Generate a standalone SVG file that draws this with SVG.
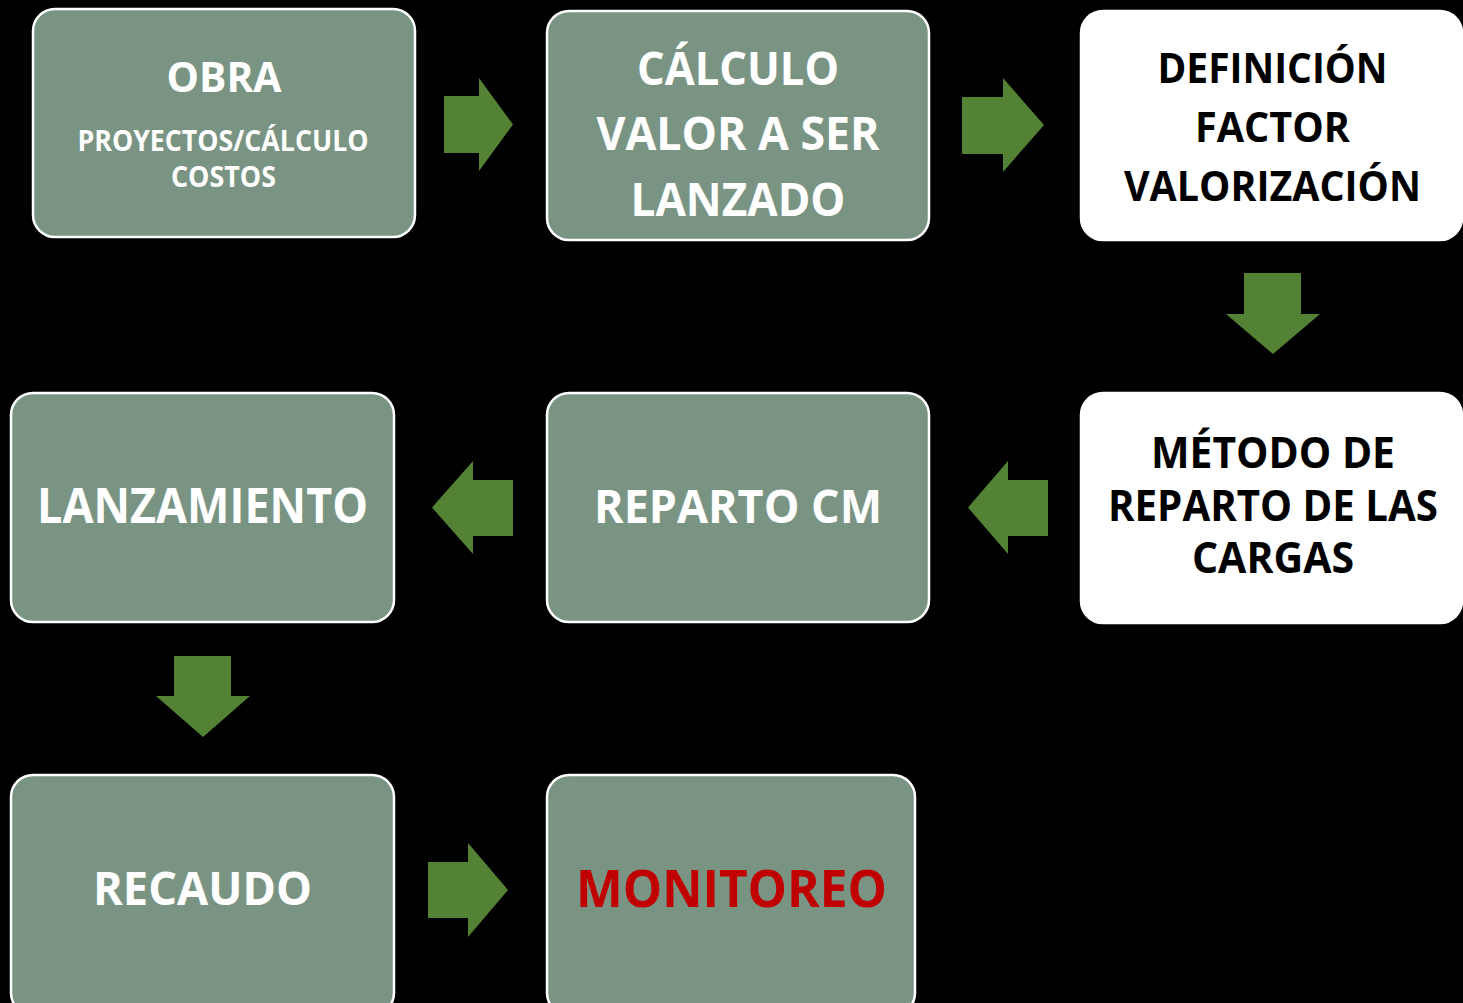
<svg xmlns="http://www.w3.org/2000/svg" width="1463" height="1003" viewBox="0 0 1463 1003">
<style>
.box{fill:#7A9484;stroke:#FFFFFF;stroke-width:2.5}
.wbox{fill:#FFFFFF;stroke:#FFFFFF;stroke-width:2.5}
.arrow{fill:#548235}
text{font-family:"Open Sans","Noto Sans","Liberation Sans",sans-serif;font-weight:bold;text-anchor:middle}
.w{fill:#FFFFFF}
.k{fill:#000000}
.r{fill:#C00000}
</style>
<rect x="0" y="0" width="1463" height="1003" fill="#000000"/>
<g id="connectors">
<polygon class="arrow" points="444,96 479,96 479,78 513,124.5 479,171 479,153 444,153"/>
<polygon class="arrow" points="962,97 1003,97 1003,78 1044,125 1003,172 1003,154 962,154"/>
<polygon class="arrow" points="1244,273 1301,273 1301,314 1320,314 1273,354 1226,314 1244,314"/>
<polygon class="arrow" points="1048,480 1008,480 1008,461 968,507.5 1008,554 1008,536 1048,536"/>
<polygon class="arrow" points="513,480 473,480 473,461 432,507.5 473,554 473,536 513,536"/>
<polygon class="arrow" points="174,656 231,656 231,696 250,696 203,737 156,696 174,696"/>
<polygon class="arrow" points="428,862 468,862 468,843 508,890 468,937 468,918 428,918"/>
</g>
<g id="node-obra">
<rect class="box" x="33" y="9" width="382" height="228" rx="22"/>
<text class="w" x="224" y="92" font-size="42" textLength="115" lengthAdjust="spacingAndGlyphs">OBRA</text>
<text class="w" x="223" y="151" font-size="29" textLength="291" lengthAdjust="spacingAndGlyphs">PROYECTOS/CÁLCULO</text>
<text class="w" x="223.5" y="187" font-size="29" textLength="105" lengthAdjust="spacingAndGlyphs">COSTOS</text>
</g>
<g id="node-calculo">
<rect class="box" x="547" y="11" width="382" height="229" rx="22"/>
<text class="w" x="738" y="85" font-size="46.5" textLength="202" lengthAdjust="spacingAndGlyphs">CÁLCULO</text>
<text class="w" x="738" y="150" font-size="46.5" textLength="283" lengthAdjust="spacingAndGlyphs">VALOR A SER</text>
<text class="w" x="738" y="216" font-size="46.5" textLength="215" lengthAdjust="spacingAndGlyphs">LANZADO</text>
</g>
<g id="node-definicion">
<rect class="wbox" x="1081" y="11" width="381" height="229" rx="22"/>
<text class="k" x="1272.5" y="83" font-size="41.5" textLength="230" lengthAdjust="spacingAndGlyphs">DEFINICIÓN</text>
<text class="k" x="1272.5" y="142" font-size="41.5" textLength="155" lengthAdjust="spacingAndGlyphs">FACTOR</text>
<text class="k" x="1272.5" y="201" font-size="41.5" textLength="297" lengthAdjust="spacingAndGlyphs">VALORIZACIÓN</text>
</g>
<g id="node-metodo">
<rect class="wbox" x="1081" y="393" width="381" height="230" rx="22"/>
<text class="k" x="1273" y="468" font-size="42.5" textLength="244" lengthAdjust="spacingAndGlyphs">MÉTODO DE</text>
<text class="k" x="1273" y="521" font-size="42.5" textLength="330" lengthAdjust="spacingAndGlyphs">REPARTO DE LAS</text>
<text class="k" x="1273" y="573" font-size="42.5" textLength="162" lengthAdjust="spacingAndGlyphs">CARGAS</text>
</g>
<g id="node-reparto">
<rect class="box" x="547" y="393" width="382" height="229" rx="22"/>
<text class="w" x="738" y="523" font-size="46.8" textLength="288" lengthAdjust="spacingAndGlyphs">REPARTO CM</text>
</g>
<g id="node-lanzamiento">
<rect class="box" x="11" y="393" width="383" height="229" rx="22"/>
<text class="w" x="202.5" y="523" font-size="47.7" textLength="331" lengthAdjust="spacingAndGlyphs">LANZAMIENTO</text>
</g>
<g id="node-recaudo">
<rect class="box" x="11" y="775" width="383" height="240" rx="22"/>
<text class="w" x="202.5" y="905" font-size="47.3" textLength="219" lengthAdjust="spacingAndGlyphs">RECAUDO</text>
</g>
<g id="node-monitoreo">
<rect class="box" x="547" y="775" width="368" height="240" rx="22"/>
<text class="r" x="731.5" y="907" font-size="52.3" textLength="311" lengthAdjust="spacingAndGlyphs">MONITOREO</text>
</g>
</svg>
